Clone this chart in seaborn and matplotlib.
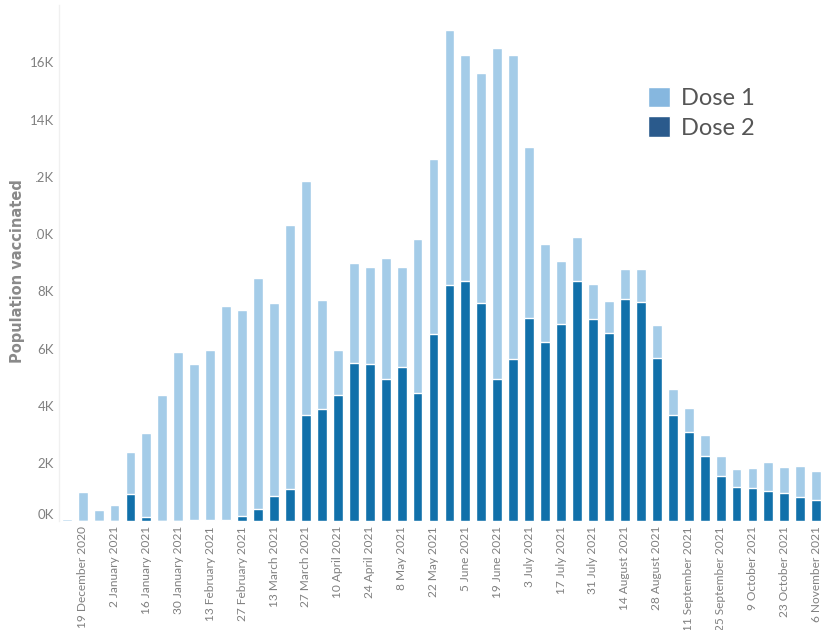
import pandas as pd
import matplotlib.pyplot as plt
import seaborn as sns
from matplotlib.patches import Patch, Rectangle

# Weekly doses (week starting 12 Dec 2020)
week_start = pd.date_range("2020-12-12", periods=48, freq="7D")
dose1 = [60, 1000, 350, 530, 1460, 2930, 4370, 5900, 5435, 5945, 7475, 7220,
         8060, 6740, 9220, 8200, 3810, 1590, 3480, 3370, 4240, 3500, 5380, 6130,
         8910, 7900, 8030, 11590, 10620, 6000, 3420, 2180, 1550, 1230, 1120, 1040,
         1150, 1130, 880, 830, 720, 720, 620, 720, 1020, 920, 1070, 990]
dose2 = [0, 0, 0, 0, 940, 120, 0, 0, 15, 15, 15, 140,
         410, 850, 1090, 3670, 3890, 4370, 5510, 5480, 4930, 5360, 4470, 6510,
         8240, 8350, 7590, 4930, 5630, 7060, 6230, 6880, 8350, 7030, 6540, 7730,
         7620, 5690, 3700, 3100, 2250, 1550, 1170, 1130, 1030, 950, 830, 730]
y_ticks = [0, 2000, 4000, 6000, 8000, 10000, 12000, 14000, 16000]
y_tick_labels = ["0K", "2K", "4K", "6K", "8K", "10K", "12K", "14K", "16K"]

week_labels = [f"{d.day} {d.strftime('%B %Y')}" for d in week_start]
df = pd.DataFrame({"week": week_labels, "dose1": dose1, "dose2": dose2})
df["total"] = df["dose1"] + df["dose2"]

light = "#a4cce8"
dark = "#1170aa"

sns.set_theme(style="white")
plt.rcParams["font.family"] = ["Lato", "DejaVu Sans"]

fig = plt.figure(figsize=(8.22, 6.30), dpi=100)
ax = fig.add_axes([0.0714, 0.1738, 0.9294, 0.818])

# stacked: total in light, dose 2 in dark on top of it
sns.barplot(data=df, x="week", y="total", color=light, saturation=1,
            width=0.62, ax=ax, order=week_labels)
sns.barplot(data=df, x="week", y="dose2", color=dark, saturation=1,
            width=0.62, ax=ax, order=week_labels)

ax.set_xlim(-0.5, 47.4)
ax.set_ylim(0, 18000)
ax.set_xlabel("")
ax.set_ylabel("")

ax.set_xticks(range(1, 48, 2))
ax.set_xticklabels(week_labels[1::2], rotation=90, fontsize=8.6, color="#808080")
ax.set_yticks(y_ticks)
ax.set_yticklabels(y_tick_labels, fontsize=9.5, color="#808080")
ax.get_yticklabels()[0].set_va("bottom")
ax.tick_params(axis="x", length=0, pad=4)
ax.tick_params(axis="y", length=0, pad=3.5)

for side in ["top", "right", "bottom"]:
    ax.spines[side].set_visible(False)
ax.spines["left"].set_color("#f0f0f0")
ax.spines["left"].set_linewidth(1)

# axis title sits over the first digit of the wide tick labels
fig.add_artist(Rectangle((0.0, 0.42), 0.0438, 0.31, transform=fig.transFigure,
                         facecolor="white", edgecolor="none", zorder=5))
fig.text(0.021, 0.57, "Population vaccinated", rotation=90, ha="center",
         va="center", fontsize=10.5, fontweight="bold", color="#8a8a8a",
         family=["DejaVu Sans"], zorder=6)

handles = [Patch(facecolor="#86b7df"), Patch(facecolor="#2a5a8c")]
ax.legend(handles, ["Dose 1", "Dose 2"], loc="upper left",
          bbox_to_anchor=(648 / 822, 1 - 87 / 630), bbox_transform=fig.transFigure,
          frameon=False, fontsize=17, labelcolor="#555555",
          handlelength=0.95, handleheight=0.95, handletextpad=0.45,
          labelspacing=0.3, borderpad=0, borderaxespad=0)

fig.savefig("out.png", dpi=100)
